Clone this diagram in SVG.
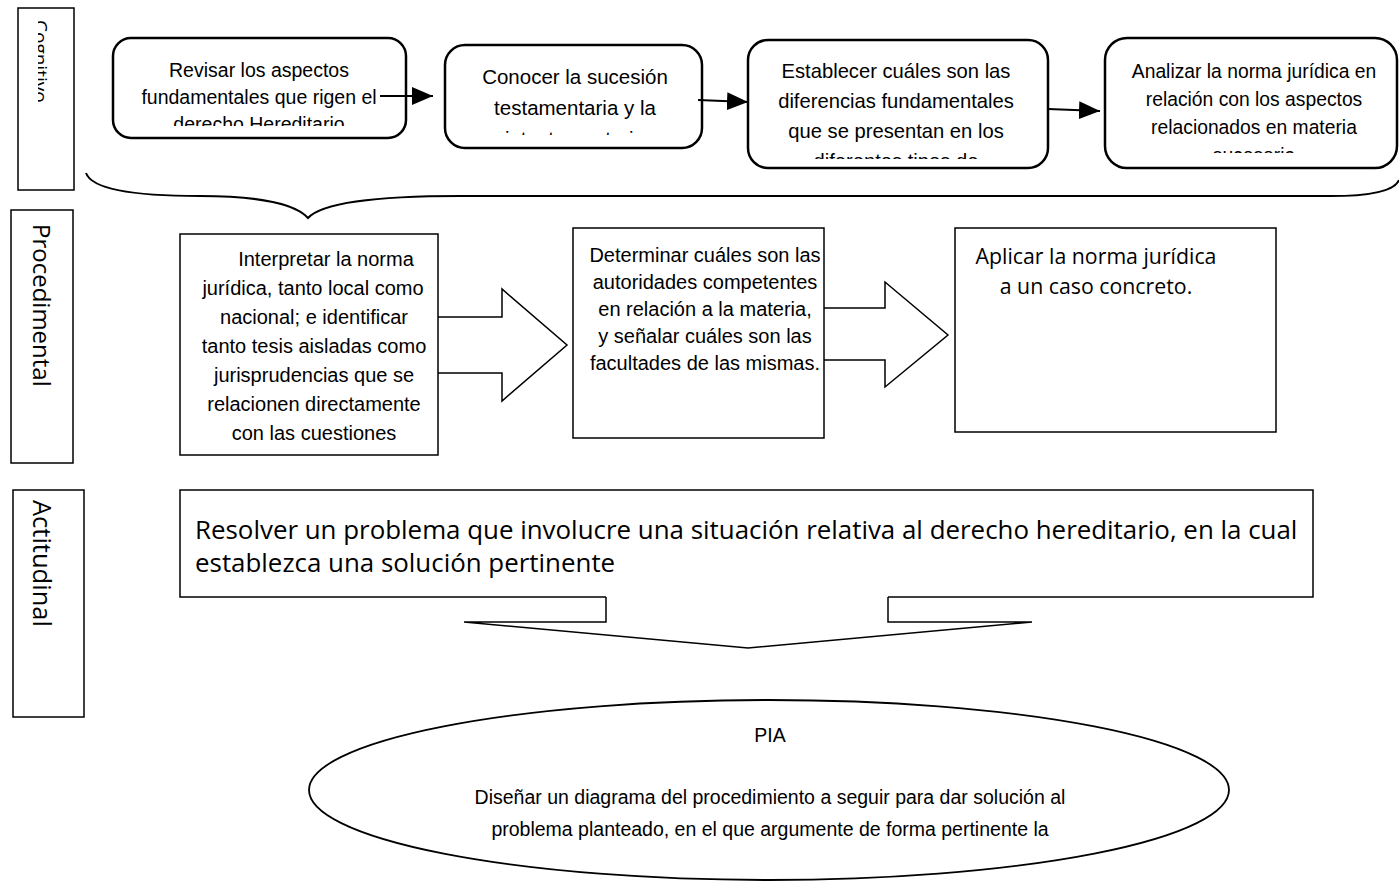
<svg xmlns="http://www.w3.org/2000/svg" width="1399" height="883" viewBox="0 0 1399 883">
<style>
.box{fill:#fff;stroke:#000;stroke-width:1.5}
.rbox{fill:#fff;stroke:#000;stroke-width:2.5}
.cal{font-family:"Liberation Sans",Arial,sans-serif;fill:#000;text-anchor:middle}
.os{font-family:"Open Sans","Liberation Sans",sans-serif;fill:#000}
.ln{fill:none;stroke:#000;stroke-width:2}
.out{fill:none;stroke:#000;stroke-width:1.5;stroke-linejoin:miter}
</style>
<defs>
<marker id="ah" markerUnits="userSpaceOnUse" markerWidth="21" markerHeight="18" viewBox="0 0 21 18" refX="21" refY="9" orient="auto">
<path d="M0,0 L21,9 L0,18 z" fill="#000"/>
</marker>
<clipPath id="cCog"><rect x="38" y="8" width="36" height="182"/></clipPath>
<clipPath id="c1"><rect x="113" y="38" width="293" height="88"/></clipPath>
<clipPath id="c2"><rect x="445" y="45" width="257" height="90"/></clipPath>
<clipPath id="c3"><rect x="748" y="40" width="300" height="119"/></clipPath>
<clipPath id="c4"><rect x="1105" y="38" width="292" height="115"/></clipPath>
</defs>

<g id="label-cognitivo">
<rect class="box" x="18" y="8" width="56" height="182"/>
<g clip-path="url(#cCog)">
<text class="os" font-size="19" transform="translate(33.5,20) rotate(90)">Cognitivo</text>
</g>
</g>

<g id="label-procedimental">
<rect class="box" x="11" y="210" width="62" height="253"/>
<text class="os" font-size="24" transform="translate(33,224) rotate(90)">Procedimental</text>
</g>

<g id="label-actitudinal">
<rect class="box" x="13" y="490" width="71" height="227"/>
<text class="os" font-size="25.5" transform="translate(33,500) rotate(90)">Actitudinal</text>
</g>

<g id="node-revisar">
<rect class="rbox" x="113" y="38" width="293" height="100" rx="18"/>
<g clip-path="url(#c1)">
<text class="cal" font-size="19.5"><tspan x="259" y="77">Revisar los aspectos</tspan><tspan x="259" y="104">fundamentales que rigen el</tspan><tspan x="259" y="131">derecho Hereditario</tspan></text>
</g>
</g>

<g id="node-conocer">
<rect class="rbox" x="445" y="45" width="257" height="103" rx="20"/>
<g clip-path="url(#c2)">
<text class="cal" font-size="20.5"><tspan x="575" y="84">Conocer la sucesión</tspan><tspan x="575" y="115">testamentaria y la</tspan><tspan x="575" y="146">intestamentaria</tspan></text>
</g>
</g>

<g id="node-establecer">
<rect class="rbox" x="748" y="40" width="300" height="128" rx="20"/>
<g clip-path="url(#c3)">
<text class="cal" font-size="20.2"><tspan x="896" y="78">Establecer cuáles son las</tspan><tspan x="896" y="108">diferencias fundamentales</tspan><tspan x="896" y="138">que se presentan en los</tspan><tspan x="896" y="168">diferentes tipos de</tspan></text>
</g>
</g>

<g id="node-analizar">
<rect class="rbox" x="1105" y="38" width="292" height="130" rx="22"/>
<g clip-path="url(#c4)">
<text class="cal" font-size="19.3"><tspan x="1254" y="78">Analizar la norma jurídica en</tspan><tspan x="1254" y="106">relación con los aspectos</tspan><tspan x="1254" y="134">relacionados en materia</tspan><tspan x="1254" y="162">sucesoria</tspan></text>
</g>
</g>

<g id="node-interpretar">
<rect class="box" x="180" y="234" width="258" height="221"/>
<text class="cal" font-size="20"><tspan x="326" y="266">Interpretar la norma</tspan><tspan x="313" y="295">jurídica, tanto local como</tspan><tspan x="314" y="324">nacional; e identificar</tspan><tspan x="314" y="353">tanto tesis aisladas como</tspan><tspan x="314" y="382">jurisprudencias que se</tspan><tspan x="314" y="411">relacionen directamente</tspan><tspan x="314" y="440">con las cuestiones</tspan></text>
</g>

<g id="node-determinar">
<rect class="box" x="573" y="228" width="251" height="210"/>
<text class="cal" font-size="20"><tspan x="705" y="262">Determinar cuáles son las</tspan><tspan x="705" y="289">autoridades competentes</tspan><tspan x="705" y="316">en relación a la materia,</tspan><tspan x="705" y="343">y señalar cuáles son las</tspan><tspan x="705" y="370">facultades de las mismas.</tspan></text>
</g>

<g id="node-aplicar">
<rect class="box" x="955" y="228" width="321" height="204"/>
<text class="os" font-size="21.3" text-anchor="middle"><tspan x="1096" y="264">Aplicar la norma jurídica</tspan><tspan x="1096" y="294">a un caso concreto.</tspan></text>
</g>

<g id="node-resolver">
<rect class="box" x="180" y="490" width="1133" height="107"/>
<text class="os" font-size="25.9"><tspan x="195" y="539">Resolver un problema que involucre una situación relativa al derecho hereditario, en la cual</tspan><tspan x="195" y="572">establezca una solución pertinente</tspan></text>
</g>

<g id="node-pia">
<ellipse cx="769" cy="790" rx="460" ry="90" fill="#fff" stroke="#000" stroke-width="1.8"/>
<text class="cal" font-size="19.5"><tspan x="770" y="742">PIA</tspan><tspan x="770" y="804">Diseñar un diagrama del procedimiento a seguir para dar solución al</tspan><tspan x="770" y="836">problema planteado, en el que argumente de forma pertinente la</tspan></text>
</g>

<g id="connectors">
<line class="ln" x1="380" y1="96" x2="433" y2="96" marker-end="url(#ah)"/>
<line class="ln" x1="698" y1="100" x2="748" y2="102" marker-end="url(#ah)"/>
<line class="ln" x1="1048" y1="109" x2="1100" y2="111" marker-end="url(#ah)"/>
<path class="ln" d="M86,173 C92,190 140,196 200,196 C262,196 296,205 308,218 C320,205 360,196 460,196 L1330,196 C1375,196 1395,190 1399,180"/>
<polyline class="out" points="438,317 502,317 502,289 567,345 502,401 502,373 438,373"/>
<polyline class="out" points="824,308 885,308 885,282 948,335 885,387 885,360 824,360"/>
<polygon points="606,595.5 606,622 464,622 748,648 1032,622 888,622 888,595.5" fill="#fff"/>
<polyline class="out" points="606,597 606,622 464,622 748,648 1032,622 888,622 888,597"/>
</g>
</svg>
